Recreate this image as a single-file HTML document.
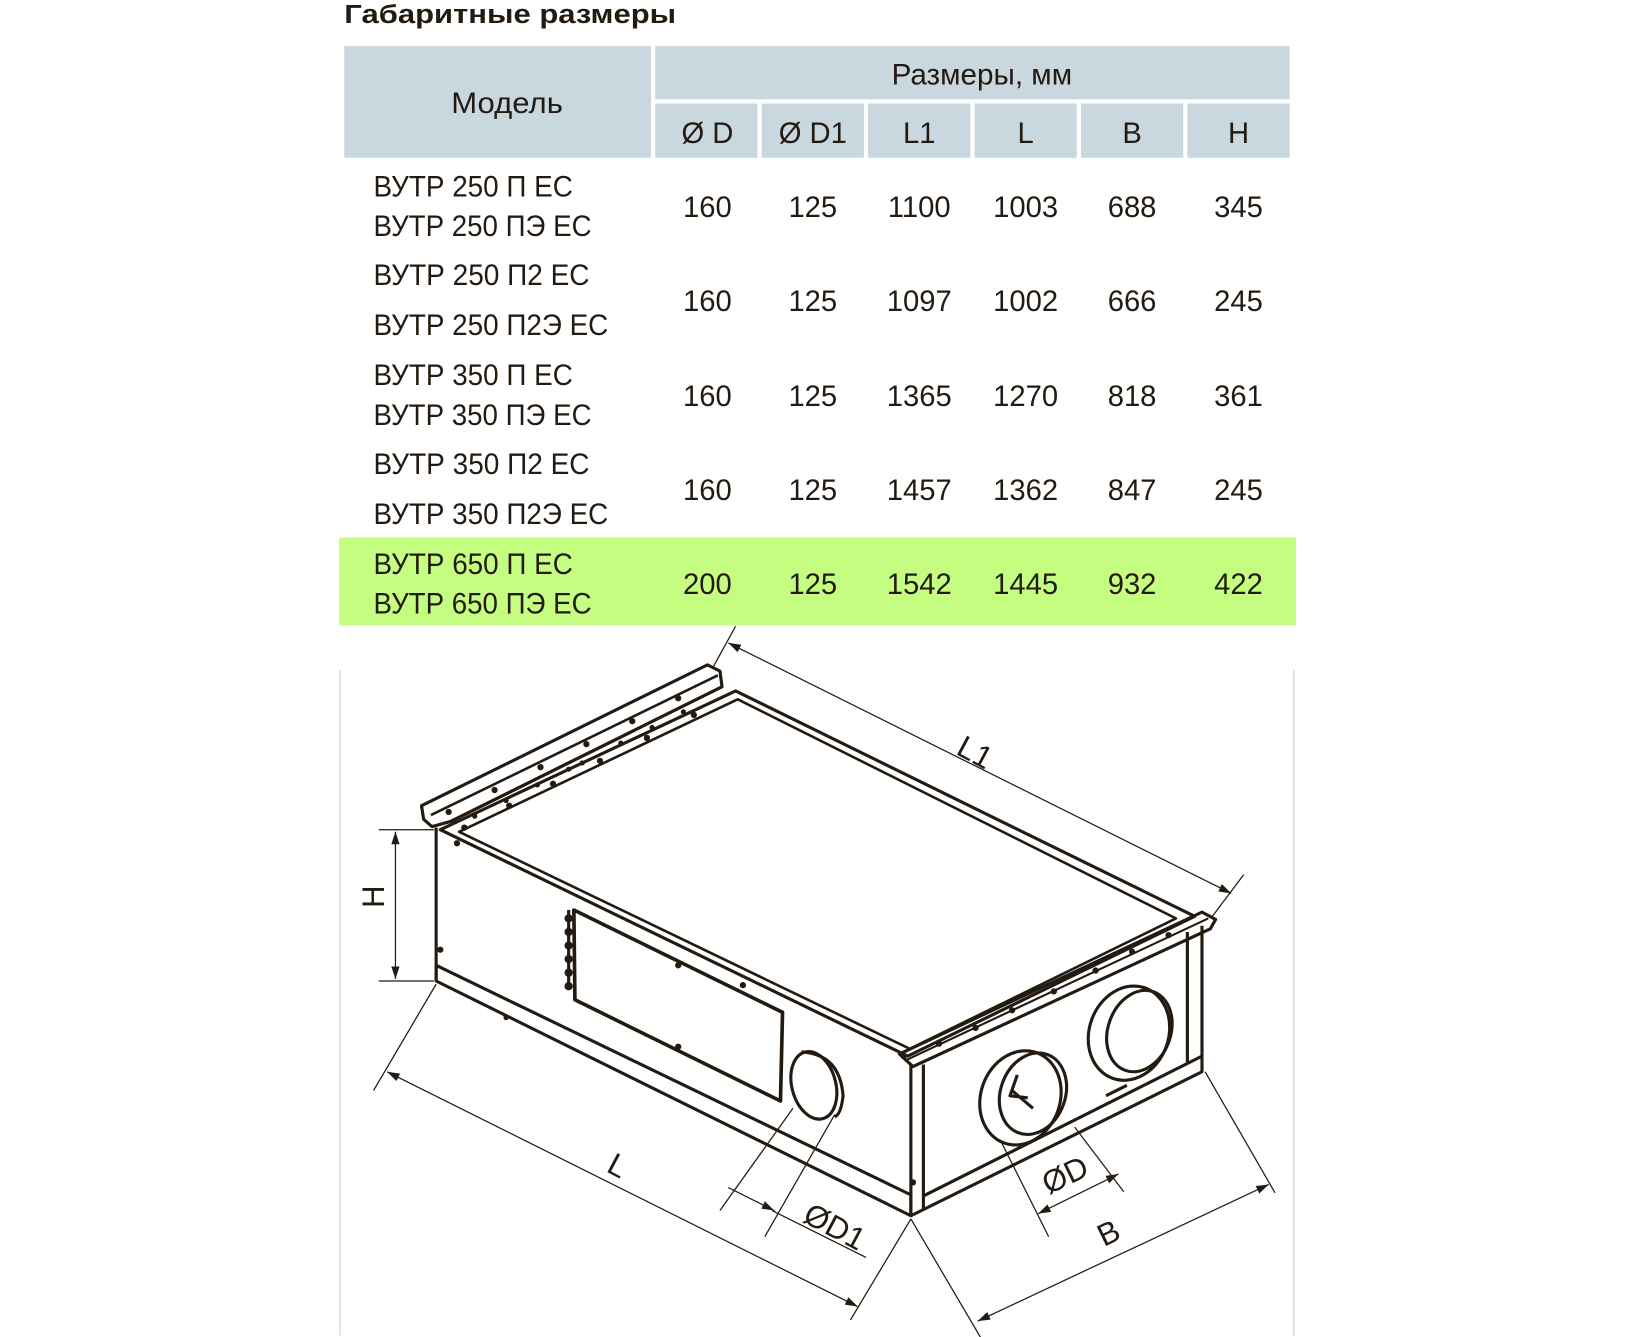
<!DOCTYPE html>
<html><head><meta charset="utf-8"><style>
html,body{margin:0;padding:0;background:#fff;}
svg{display:block}
text{font-family:"Liberation Sans",sans-serif;fill:#231a12}
</style></head><body>
<svg width="1635" height="1337" viewBox="0 0 1567 1281" xmlns="http://www.w3.org/2000/svg">
<defs>
<marker id="a" viewBox="0 0 12 8" refX="12" refY="4" markerWidth="12" markerHeight="8" orient="auto-start-reverse" markerUnits="userSpaceOnUse">
<path d="M0,0 L12,4 L0,8 z" fill="#231a12"/></marker>
</defs>
<text x="330" y="22" font-size="25" font-weight="bold" textLength="318" lengthAdjust="spacingAndGlyphs">Габаритные размеры</text>
<g fill="#c9d7df">
<rect x="330" y="44" width="294" height="107"/>
<rect x="628" y="44" width="608" height="51"/>
<rect x="628" y="99" width="98" height="52"/>
<rect x="730" y="99" width="98" height="52"/>
<rect x="832" y="99" width="98" height="52"/>
<rect x="934" y="99" width="98" height="52"/>
<rect x="1036" y="99" width="98" height="52"/>
<rect x="1138" y="99" width="98" height="52"/>
</g>
<rect x="325" y="515" width="917" height="84" fill="#c5fd80"/>
<g font-size="28" text-anchor="middle">
<text x="486" y="108" textLength="107" lengthAdjust="spacingAndGlyphs">Модель</text>
<text x="941" y="81" textLength="173" lengthAdjust="spacingAndGlyphs">Размеры, мм</text>
<text x="678" y="137">Ø D</text><text x="779" y="137">Ø D1</text>
<text x="881" y="137">L1</text><text x="983" y="137">L</text>
<text x="1085" y="137">B</text><text x="1187" y="137">H</text>
</g>
<g font-size="28" lengthAdjust="spacingAndGlyphs">
<text x="358" y="188" textLength="191" lengthAdjust="spacingAndGlyphs">ВУТР 250 П ЕС</text><text x="358" y="226" textLength="209" lengthAdjust="spacingAndGlyphs">ВУТР 250 ПЭ ЕС</text>
<text x="358" y="273" textLength="207" lengthAdjust="spacingAndGlyphs">ВУТР 250 П2 ЕС</text><text x="358" y="321" textLength="225" lengthAdjust="spacingAndGlyphs">ВУТР 250 П2Э ЕС</text>
<text x="358" y="369" textLength="191" lengthAdjust="spacingAndGlyphs">ВУТР 350 П ЕС</text><text x="358" y="407" textLength="209" lengthAdjust="spacingAndGlyphs">ВУТР 350 ПЭ ЕС</text>
<text x="358" y="454" textLength="207" lengthAdjust="spacingAndGlyphs">ВУТР 350 П2 ЕС</text><text x="358" y="502" textLength="225" lengthAdjust="spacingAndGlyphs">ВУТР 350 П2Э ЕС</text>
<text x="358" y="550" textLength="191" lengthAdjust="spacingAndGlyphs">ВУТР 650 П ЕС</text><text x="358" y="588" textLength="209" lengthAdjust="spacingAndGlyphs">ВУТР 650 ПЭ ЕС</text>
</g>
<g font-size="28" text-anchor="middle">
<g transform="translate(0,208)"><text x="678">160</text><text x="779">125</text><text x="881">1100</text><text x="983">1003</text><text x="1085">688</text><text x="1187">345</text></g>
<g transform="translate(0,298)"><text x="678">160</text><text x="779">125</text><text x="881">1097</text><text x="983">1002</text><text x="1085">666</text><text x="1187">245</text></g>
<g transform="translate(0,389)"><text x="678">160</text><text x="779">125</text><text x="881">1365</text><text x="983">1270</text><text x="1085">818</text><text x="1187">361</text></g>
<g transform="translate(0,479)"><text x="678">160</text><text x="779">125</text><text x="881">1457</text><text x="983">1362</text><text x="1085">847</text><text x="1187">245</text></g>
<g transform="translate(0,569)"><text x="678">200</text><text x="779">125</text><text x="881">1542</text><text x="983">1445</text><text x="1085">932</text><text x="1187">422</text></g>
</g>
<!-- frame -->
<g stroke="#d8dde0" stroke-width="1.5" fill="none">
<line x1="326" y1="642" x2="326" y2="1280"/><line x1="1240" y1="642" x2="1240" y2="1280"/>
</g>
<!-- box -->
<g stroke="#231a12" stroke-width="3" fill="none" stroke-linejoin="round">
<!-- top flange left -->
<polygon points="404,772 678,637 690,643 692,658 432,787 414,792 406,785"/>
<line x1="413" y1="781" x2="688" y2="647" stroke-width="2.5"/>
<line x1="432" y1="787" x2="692" y2="658"/>
<!-- top face -->
<polygon points="422,795 705,662 1145,878 870,1012"/>
<polygon points="440,797 707,670 1127,880 872,1005" stroke-width="2.5"/>
<!-- right flange -->
<polygon points="862,1010 1152,874 1165,881 1160,890 875,1022"/>
<line x1="868" y1="1016" x2="1158" y2="880" stroke-width="2"/>
<!-- left face -->
<line x1="418" y1="793" x2="418" y2="940"/>
<polyline points="418,925 873,1145 873,1165 418,940 418,925"/>
<line x1="873" y1="1020" x2="873" y2="1165"/>
<line x1="885" y1="1020" x2="885" y2="1158"/>
<!-- right face -->
<polyline points="873,1165 1152,1027 1152,887"/>
<polyline points="885,1146 1152,1012"/>
<line x1="1138" y1="893" x2="1138" y2="1018"/>
<!-- panel -->
<polygon points="550,872 750,970 748,1055 551,958" stroke-width="3.5"/>
<line x1="545" y1="872" x2="545" y2="945"/>
<!-- D1 circle -->
<ellipse cx="780" cy="1040" rx="21" ry="33" transform="rotate(-15 780 1040)"/>
<path d="M768,1008 Q805,1010 808,1050 Q806,1068 800,1070"/>
<!-- D circles -->
<ellipse cx="978" cy="1052" rx="38" ry="46" transform="rotate(20 978 1052)"/>
<ellipse cx="990" cy="1048" rx="31" ry="40" transform="rotate(20 990 1048)"/>
<path d="M970,1045 L990,1062 M975,1030 L968,1050 L985,1052"/>
<ellipse cx="1082" cy="990" rx="38" ry="46" transform="rotate(20 1082 990)"/>
<ellipse cx="1092" cy="988" rx="30" ry="40" transform="rotate(20 1092 988)"/>
<path d="M1060,1050 L1080,1040"/>
</g>
<!-- rivets -->
<g fill="#231a12">
<circle cx="430" cy="778" r="3"/><circle cx="474" cy="757" r="3"/><circle cx="518" cy="735" r="3"/><circle cx="562" cy="713" r="3"/><circle cx="606" cy="691" r="3"/><circle cx="650" cy="669" r="3"/>
<circle cx="455" cy="782" r="2.5"/><circle cx="485" cy="767" r="2.5"/><circle cx="515" cy="752" r="2.5"/><circle cx="545" cy="737" r="2.5"/><circle cx="558" cy="731" r="2.5"/><circle cx="595" cy="712" r="2.5"/><circle cx="625" cy="697" r="2.5"/><circle cx="655" cy="682" r="2.5"/>
<circle cx="445" cy="793" r="3"/><circle cx="488" cy="772" r="3"/><circle cx="530" cy="751" r="3"/><circle cx="575" cy="729" r="3"/><circle cx="620" cy="707" r="3"/><circle cx="665" cy="685" r="3"/>
<circle cx="438" cy="808" r="3"/><circle cx="422" cy="910" r="3"/><circle cx="485" cy="975" r="2.5"/><circle cx="650" cy="925" r="3"/><circle cx="712" cy="944" r="3"/><circle cx="650" cy="1003" r="3"/><circle cx="866" cy="1012" r="3"/><circle cx="875" cy="1133" r="3"/>
<circle cx="900" cy="1000" r="3"/><circle cx="935" cy="985" r="3"/><circle cx="970" cy="968" r="3"/><circle cx="1010" cy="950" r="3"/><circle cx="1050" cy="930" r="3"/><circle cx="1085" cy="912" r="3"/><circle cx="1120" cy="896" r="3"/>
<circle cx="545" cy="880" r="4"/><circle cx="545" cy="893" r="4"/><circle cx="545" cy="906" r="4"/><circle cx="545" cy="919" r="4"/><circle cx="545" cy="932" r="4"/><circle cx="545" cy="945" r="4"/>
</g>
<!-- dimensions -->
<g stroke="#231a12" stroke-width="1.2" fill="none">
<line x1="363" y1="795" x2="416" y2="795"/><line x1="363" y1="940" x2="416" y2="940"/>
<line x1="379" y1="797" x2="379" y2="938" marker-start="url(#a)" marker-end="url(#a)"/>
<line x1="683" y1="640" x2="705" y2="600"/><line x1="1162" y1="878" x2="1192" y2="838"/>
<line x1="698" y1="616" x2="1180" y2="856" marker-start="url(#a)" marker-end="url(#a)"/>
<line x1="418" y1="943" x2="358" y2="1045"/><line x1="873" y1="1168" x2="815" y2="1265"/>
<line x1="371" y1="1027" x2="822" y2="1252" marker-start="url(#a)" marker-end="url(#a)"/>
<line x1="760" y1="1062" x2="690" y2="1160"/><line x1="800" y1="1068" x2="733" y2="1185"/>
<line x1="698" y1="1138" x2="742" y2="1160" marker-end="url(#a)"/>
<line x1="740" y1="1160" x2="830" y2="1205"/>
<line x1="960" y1="1095" x2="1005" y2="1185"/><line x1="1030" y1="1080" x2="1077" y2="1142"/>
<line x1="995" y1="1163" x2="1072" y2="1125" marker-start="url(#a)" marker-end="url(#a)"/>
<line x1="873" y1="1168" x2="940" y2="1282"/><line x1="1155" y1="1027" x2="1222" y2="1143"/>
<line x1="937" y1="1266" x2="1216" y2="1135" marker-start="url(#a)" marker-end="url(#a)"/>
</g>
<g font-size="30" fill="#231a12">
<text x="0" y="0" transform="translate(368,870) rotate(-90)">H</text>
<text transform="translate(915,722) rotate(28)">L1</text>
<text transform="translate(580,1122) rotate(28)">L</text>
<text transform="translate(768,1170) rotate(28)">ØD1</text>
<text transform="translate(1005,1145) rotate(-26)">ØD</text>
<text transform="translate(1058,1195) rotate(-26)">B</text>
</g>
</svg>
</body></html>
